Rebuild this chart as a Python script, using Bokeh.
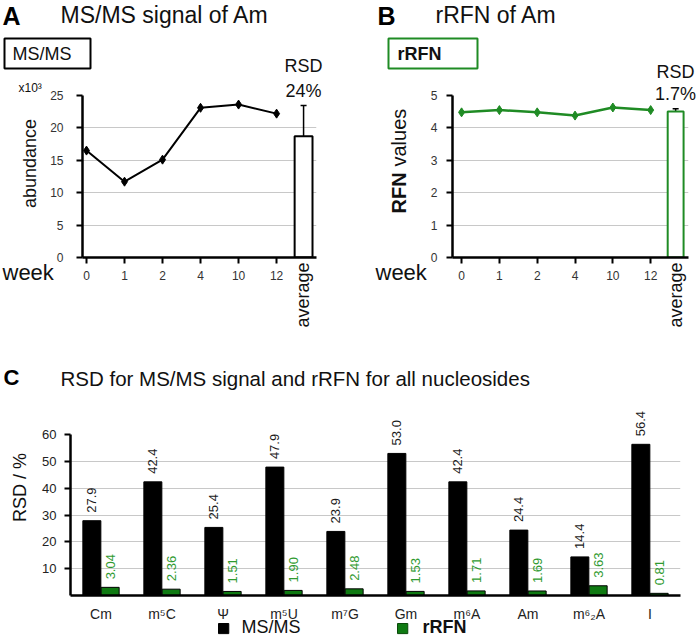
import math
from bokeh.plotting import figure
from bokeh.models import (Range1d, FactorRange, FixedTicker, Label, LabelSet, ColumnDataSource,
                          Whisker, TeeHead, GridBox)
from bokeh.transform import dodge
from bokeh.core.properties import value
from bokeh.embed import file_html
from bokeh.resources import INLINE

# ---------------- data ----------------
weeks = ["0", "1", "2", "4", "10", "12"]
msms_abundance = [16.5, 11.7, 15.1, 23.1, 23.6, 22.2]      # x10^3
msms_avg = 18.7
msms_sd = 4.75
msms_rsd = "24%"

rrfn_values = [4.48, 4.55, 4.48, 4.38, 4.63, 4.55]
rrfn_avg = 4.51
rrfn_sd = 0.08
rrfn_rsd = "1.7%"

nucleosides = ["Cm", "m\u2075C", "\u03a8", "m\u2075U", "m\u2077G", "Gm", "m\u2076A", "Am", "m\u2076\u2082A", "I"]
rsd_msms = [27.9, 42.4, 25.4, 47.9, 23.9, 53.0, 42.4, 24.4, 14.4, 56.4]
rsd_rrfn = [3.04, 2.36, 1.51, 1.90, 2.48, 1.53, 1.71, 1.69, 3.63, 0.81]

# ---------------- style ----------------
FONT = "Liberation Sans"
GREEN = "#1f8b24"
BAR_GREEN = "#0f7a12"
TEXT_GREEN = "#2f9a2f"
TXT = "#111111"
W, H = 696, 639


def no_align(p):
    try:
        p.frame_align = False
    except Exception:
        pass


def style_axes(p, size="12px", ystand=13, xstand=7):
    for ax in (p.xaxis[0], p.yaxis[0]):
        ax.axis_line_width = 2.5
        ax.axis_line_color = "black"
        ax.major_tick_line_width = 2
        ax.major_tick_line_color = "black"
        ax.major_tick_out = 6
        ax.major_tick_in = 0
        ax.minor_tick_line_color = None
        ax.major_label_text_font = FONT
        ax.major_label_text_font_size = size
        ax.major_label_text_color = "#333333"
    p.yaxis[0].major_label_standoff = ystand
    p.xaxis[0].major_label_standoff = xstand
    p.xgrid.grid_line_color = None
    p.ygrid.grid_line_color = "#c8c8c8"
    p.ygrid.grid_line_width = 1
    no_align(p)


idx = list(range(len(weeks)))
week_labels = {i: w for i, w in enumerate(weeks)}

# ---------------- panel A ----------------
AVG_XA = 5.71
pA = figure(width=340, height=340, x_range=Range1d(-0.105, 6.05), y_range=Range1d(0, 25),
            output_backend="svg", toolbar_location=None, outline_line_color=None,
            min_border_left=82, min_border_right=24, min_border_top=95, min_border_bottom=83)
style_axes(pA, ystand=13)
pA.yaxis[0].ticker = FixedTicker(ticks=[0, 5, 10, 15, 20, 25])
pA.ygrid.ticker = FixedTicker(ticks=[5, 10, 15, 20])
pA.xaxis[0].ticker = FixedTicker(ticks=idx)
pA.xaxis[0].major_label_overrides = week_labels

pA.vbar(x=[AVG_XA], top=[msms_avg], width=0.47, bottom=0, fill_color="white",
        line_color="black", line_width=2)
srcA = ColumnDataSource(dict(x=[AVG_XA], upper=[msms_avg + msms_sd], lower=[msms_avg - msms_sd]))
pA.add_layout(Whisker(source=srcA, base="x", upper="upper", lower="lower", dimension="height",
                      line_color="black", line_width=1.5,
                      upper_head=TeeHead(size=6, line_width=1.5, line_color="black"),
                      lower_head=TeeHead(size=6, line_width=1.5, line_color="black")))
pA.line(x=idx, y=msms_abundance, line_color="black", line_width=2)
pA.scatter(x=idx, y=msms_abundance, marker="diamond", size=9, color="black")

# ---------------- panel B ----------------
AVG_XB = 5.66
pB = figure(width=356, height=340, x_range=Range1d(-0.24, 6.0), y_range=Range1d(0, 5),
            output_backend="svg", toolbar_location=None, outline_line_color=None,
            min_border_left=112, min_border_right=8, min_border_top=95, min_border_bottom=83)
style_axes(pB, ystand=9)
pB.yaxis[0].ticker = FixedTicker(ticks=[0, 1, 2, 3, 4, 5])
pB.ygrid.ticker = FixedTicker(ticks=[1, 2, 3, 4])
pB.xaxis[0].ticker = FixedTicker(ticks=idx)
pB.xaxis[0].major_label_overrides = week_labels

pB.vbar(x=[AVG_XB], top=[rrfn_avg], width=0.42, bottom=0, fill_color="white",
        line_color=GREEN, line_width=2)
srcB = ColumnDataSource(dict(x=[AVG_XB], upper=[rrfn_avg + rrfn_sd], lower=[rrfn_avg - rrfn_sd]))
pB.add_layout(Whisker(source=srcB, base="x", upper="upper", lower="lower", dimension="height",
                      line_color="black", line_width=1.5,
                      upper_head=TeeHead(size=6, line_width=1.5, line_color="black"),
                      lower_head=TeeHead(size=6, line_width=1.5, line_color="black")))
pB.line(x=idx, y=rrfn_values, line_color=GREEN, line_width=2.5)
pB.scatter(x=idx, y=rrfn_values, marker="diamond", size=9, color=GREEN)

# ---------------- panel C ----------------
pC = figure(width=696, height=299, x_range=FactorRange(factors=nucleosides), y_range=Range1d(0, 72),
            output_backend="svg", toolbar_location=None, outline_line_color=None,
            min_border_left=70, min_border_right=16, min_border_top=62, min_border_bottom=44)
style_axes(pC, size="13px", ystand=8, xstand=10)
pC.yaxis[0].ticker = FixedTicker(ticks=[10, 20, 30, 40, 50, 60])
pC.yaxis[0].bounds = (0, 60)
pC.ygrid.ticker = FixedTicker(ticks=[10, 20, 30, 40, 50])
pC.xaxis[0].major_tick_line_color = None
pC.xaxis[0].major_tick_out = 0
pC.xaxis[0].major_label_text_font_size = "14px"
pC.xaxis[0].major_label_text_color = "#222222"
pC.yaxis[0].major_label_text_color = "#222222"

src = ColumnDataSource(dict(cat=nucleosides, msms=rsd_msms, rrfn=rsd_rrfn,
                            msms_txt=[f"{v:.1f}" for v in rsd_msms],
                            rrfn_txt=[f"{v:.2f}" for v in rsd_rrfn]))
r1 = pC.vbar(x=dodge("cat", -0.15, range=pC.x_range), top="msms", width=0.295, source=src,
             fill_color="black", line_color="black")
r2 = pC.vbar(x=dodge("cat", 0.15, range=pC.x_range), top="rrfn", width=0.295, source=src,
             fill_color=BAR_GREEN, line_color="black", line_width=1)
pC.add_layout(LabelSet(x=dodge("cat", -0.15, range=pC.x_range), y="msms", text="msms_txt", source=src,
                       angle=math.pi / 2, text_align="left", text_baseline="middle", y_offset=8,
                       text_font=value(FONT), text_font_size="13px", text_color="#1a1a1a"))
pC.add_layout(LabelSet(x=dodge("cat", 0.15, range=pC.x_range), y="rrfn", text="rrfn_txt", source=src,
                       angle=math.pi / 2, text_align="left", text_baseline="middle", y_offset=8,
                       text_font=value(FONT), text_font_size="13px", text_color=TEXT_GREEN))

# ---------------- text overlay (titles, labels, legend) ----------------
pT = figure(width=W, height=H, x_range=Range1d(0, W), y_range=Range1d(0, H),
            x_axis_type=None, y_axis_type=None, output_backend="svg", toolbar_location=None,
            outline_line_color=None, min_border=0, background_fill_color=None,
            border_fill_color=None)
no_align(pT)


def T(text, px, py, size, **kw):
    """Text at page pixel (px, py) from the top-left corner; py is the baseline
    unless another text_baseline is given."""
    if "text_baseline" not in kw:
        kw["text_baseline"] = "bottom"
        py = py + 0.21 * size
    kw.setdefault("text_color", TXT)
    pT.add_layout(Label(x=px, y=H - py, x_units="screen", y_units="screen", text=text,
                        text_font=FONT, text_font_size=f"{size}px", **kw))


ROT = math.pi / 2
# panel A texts
T("A", 2, 24, 25, text_font_style="bold", text_color="black")
T("MS/MS signal of Am", 60, 23, 23)
T("MS/MS", 4, 38, 18, text_align="left", text_baseline="top",
  border_line_color="black", border_line_width=2, padding=dict(left=8, right=19, top=5, bottom=5))
T("x10\u00b3", 18, 92, 12)
T("abundance", 29, 163, 18, angle=ROT, text_align="center", text_baseline="middle")
T("week", 2, 280, 22)
T("RSD", 303, 72, 18, text_align="center")
T(msms_rsd, 303, 97, 18, text_align="center")
T("average", 302, 262, 18, angle=ROT, text_align="right", text_baseline="middle")
# panel B texts
T("B", 377, 24, 25, text_font_style="bold", text_color="black")
T("rRFN of Am", 435, 23, 23)
T("rRFN", 388, 38, 18, text_font_style="bold", text_align="left", text_baseline="top",
  border_line_color=GREEN, border_line_width=2, padding=dict(left=9, right=36, top=5, bottom=5))
T("RFN", 398, 213, 20, text_font_style="bold", angle=ROT, text_align="left", text_baseline="middle")
T("values", 398, 166, 20, angle=ROT, text_align="left", text_baseline="middle")
T("week", 375, 280, 22)
T("RSD", 675, 78, 18, text_align="center")
T(rrfn_rsd, 675, 100, 18, text_align="center")
T("average", 675, 262, 18, angle=ROT, text_align="right", text_baseline="middle")
# panel C texts
T("C", 3, 385, 22, text_font_style="bold", text_color="black")
T("RSD for MS/MS signal and rRFN for all nucleosides", 60, 385, 20.5)
T("RSD / %", 19, 487, 18, angle=ROT, text_align="center", text_baseline="middle")

# legend: colour keys and labels
T(" ", 218, 623, 1, text_align="left", text_baseline="top", background_fill_color="black",
  border_line_color="black", padding=dict(left=5, right=5, top=4, bottom=5))
T("MS/MS", 241, 633, 18)
T(" ", 397, 623, 1, text_align="left", text_baseline="top", background_fill_color=BAR_GREEN,
  border_line_color="#0a4a0a", padding=dict(left=5, right=5, top=4, bottom=5))
T("rRFN", 422, 633, 18, text_font_style="bold")

grid = GridBox(children=[(pA, 0, 0), (pB, 0, 1), (pC, 1, 0, 1, 2), (pT, 0, 0, 2, 2)])
open("out.html", "w").write(file_html(grid, INLINE))
